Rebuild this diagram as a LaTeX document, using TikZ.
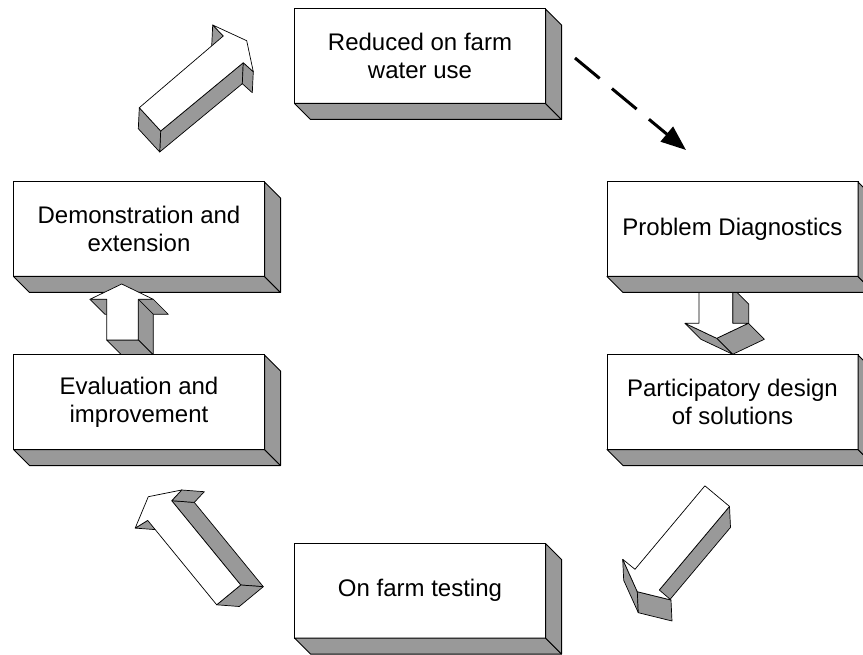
\documentclass[tikz,border=0pt]{standalone}
\usepackage{fontspec}
\setmainfont{Liberation Sans}
\usetikzlibrary{calc,arrows.meta}
\definecolor{sidegray}{RGB}{153,153,153}
\tikzset{
  boxface/.style={draw=black, line width=1pt, fill=white, minimum width=251pt, minimum height=94.5pt,
    inner sep=0pt, outer sep=0pt, align=center, font=\fontsize{24}{28}\selectfont, anchor=north west},
  boxside/.style={draw=black, line width=1pt, fill=sidegray, line join=round},
  arrface/.style={draw=black, line width=0.7pt, fill=white, line join=round},
  arrside/.style={draw=black, line width=0.7pt, fill=sidegray, line join=round},
  flow/.style={line width=3pt, dash pattern=on 32pt off 16pt, -{Triangle[length=25pt,width=19pt]}},
}
\newcommand\mkbox[4]{%
  \node[boxface] (#1) at (#2,#3) {#4};
  \draw[boxside] (#1.south west) -- (#1.south east) -- ++(16,16) -- ($(#1.south west)+(16,16)$) -- cycle;
  \draw[boxside] (#1.north east) -- ++(16,16) -- ($(#1.south east)+(16,16)$) -- (#1.south east) -- cycle;
}
\begin{document}
\begin{tikzpicture}[x=1pt,y=-1pt]
\useasboundingbox (0,0) rectangle (863,655);

% ---- arrow 2 (Problem Diagnostics -> Participatory design), drawn before boxes
\coordinate (b1) at (699,288);
\coordinate (b2) at (732.7,288);
\coordinate (b3) at (732.7,323.3);
\coordinate (bR) at (748.3,323.3);
\coordinate (bT) at (716.7,338.3);
\coordinate (bL) at (685,323.3);
\coordinate (b4) at (699,323.3);
\draw[arrside] (b2) -- (b3) -- ++(16,16) -- ($(b2)+(16,16)$) -- cycle;
\draw[arrside] (bR) -- (bT) -- ++(16,16) -- ($(bR)+(16,16)$) -- cycle;
\draw[arrside] (bT) -- (bL) -- ++(16,16) -- ($(bT)+(16,16)$) -- cycle;
\draw[arrface] (b1) -- (b2) -- (b3) -- (bR) -- (bT) -- (bL) -- (b4) -- cycle;

% ---- boxes
\mkbox{reduced}{294.5}{9}{Reduced on farm\\water use}
\mkbox{diag}{607}{182}{Problem Diagnostics}
\mkbox{design}{607}{355}{Participatory design\\of solutions}
\mkbox{demo}{13.5}{182}{Demonstration and\\extension}
\mkbox{testing}{294.5}{543.5}{On farm testing}

% ---- arrow 3 (Evaluation -> Demonstration)
\coordinate (cT) at (121.7,284);
\coordinate (cR) at (153.3,299.3);
\coordinate (cRN) at (138.3,299.3);
\coordinate (cRB) at (138.3,340);
\coordinate (cLB) at (106.7,340);
\coordinate (cLN) at (106.7,299.3);
\coordinate (cL) at (90,299.3);
\draw[arrside] (cLN) -- (cL) -- ++(15,15) -- ($(cLN)+(15,15)$) -- cycle;
\draw[arrside] (cR) -- (cRN) -- ++(15,15) -- ($(cR)+(15,15)$) -- cycle;
\draw[arrside] (cRN) -- (cRB) -- ++(15,15) -- ($(cRN)+(15,15)$) -- cycle;
\draw[arrside] (cRB) -- (cLB) -- ++(15,15) -- ($(cRB)+(15,15)$) -- cycle;
\draw[arrface] (cT) -- (cR) -- (cRN) -- (cRB) -- (cLB) -- (cLN) -- (cL) -- cycle;

\mkbox{eval}{13.5}{355}{Evaluation and\\improvement}

% ---- arrow 1 (Demonstration -> Reduced water use)
\coordinate (aA) at (139.3,107.7);
\coordinate (aN) at (223.3,36);
\coordinate (aL) at (212.7,25);
\coordinate (aT) at (246.7,40.7);
\coordinate (aR) at (253.3,71.7);
\coordinate (aM) at (243.3,62.7);
\coordinate (aB) at (160.7,131);
\draw[arrside] (aN) -- (aL) -- ++(-1,21) -- ($(aN)+(-1,21)$) -- cycle;
\draw[arrside] (aM) -- (aB) -- ++(-1,21) -- ($(aM)+(-1,21)$) -- cycle;
\draw[arrside] (aR) -- (aM) -- ++(-1,21) -- ($(aR)+(-1,21)$) -- cycle;
\draw[arrside] (aB) -- (aA) -- ++(-1,21) -- ($(aB)+(-1,21)$) -- cycle;
\draw[arrface] (aA) -- (aN) -- (aL) -- (aT) -- (aR) -- (aM) -- (aB) -- cycle;

% ---- arrow 4 (Participatory design -> On farm testing)
\coordinate (dTL) at (704.9,485.8);
\coordinate (dN1) at (635,569.3);
\coordinate (dL) at (622.7,559.3);
\coordinate (dT) at (637.3,591.7);
\coordinate (dR) at (671,600);
\coordinate (dN2) at (659.3,590);
\coordinate (dTR) at (729.5,506.4);
\draw[arrside] (dN2) -- (dTR) -- ++(1,21) -- ($(dN2)+(1,21)$) -- cycle;
\draw[arrside] (dL) -- (dT) -- ++(1,21) -- ($(dL)+(1,21)$) -- cycle;
\draw[arrside] (dT) -- (dR) -- ++(1,21) -- ($(dT)+(1,21)$) -- cycle;
\draw[arrface] (dTL) -- (dN1) -- (dL) -- (dT) -- (dR) -- (dN2) -- (dTR) -- cycle;

% ---- arrow 5 (On farm testing -> Evaluation)
\coordinate (eTL) at (216.7,604.8);
\coordinate (eTR) at (240.7,585);
\coordinate (eN2) at (171.7,500.7);
\coordinate (eR) at (181.7,490);
\coordinate (eT) at (148.3,496.7);
\coordinate (eL) at (135.2,528.1);
\coordinate (eN1) at (147.7,520.4);
\draw[arrside] (eL) -- (eN1) -- ++(22.6,1.7) -- ($(eL)+(22.6,1.7)$) -- cycle;
\draw[arrside] (eTR) -- (eN2) -- ++(22.6,1.7) -- ($(eTR)+(22.6,1.7)$) -- cycle;
\draw[arrside] (eN2) -- (eR) -- ++(22.6,1.7) -- ($(eN2)+(22.6,1.7)$) -- cycle;
\draw[arrside] (eTL) -- (eTR) -- ++(22.6,1.7) -- ($(eTL)+(22.6,1.7)$) -- cycle;
\draw[arrface] (eTL) -- (eTR) -- (eN2) -- (eR) -- (eT) -- (eL) -- (eN1) -- cycle;

% ---- dashed arrow (Reduced water use -> Problem Diagnostics)
\coordinate (fs) at (575,58);
\coordinate (fe) at (686,150);
\draw[flow] (fs) -- (fe);
\end{tikzpicture}
\end{document}
